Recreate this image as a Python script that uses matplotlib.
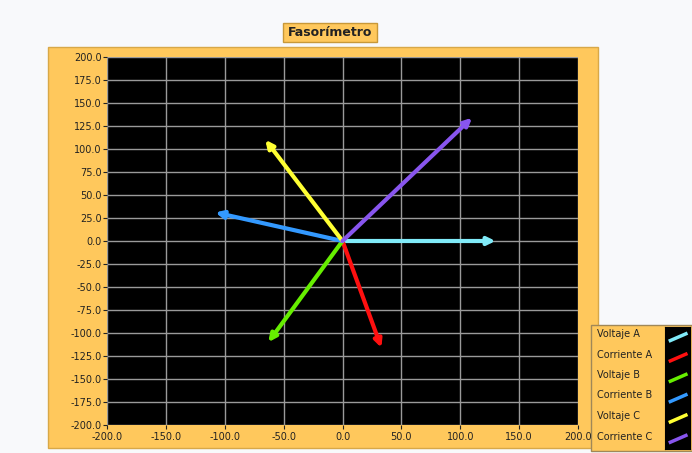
import matplotlib
matplotlib.use("Agg")
import matplotlib.pyplot as plt
from matplotlib.patches import Rectangle

labels = ['Voltaje A', 'Corriente A', 'Voltaje B', 'Corriente B', 'Voltaje C', 'Corriente C']
x_end = [130.0, 33.0, -63.0, -108.0, -65.5, 110.0]
y_end = [0.0, -116.0, -110.0, 31.0, 110.0, 134.0]
colors = ['#80eaf8', '#ff1010', '#66ee00', '#3399ff', '#ffff33', '#8855ee']
x_ticks = [-200, -150, -100, -50, 0, 50, 100, 150, 200]
y_ticks = [200, 175, 150, 125, 100, 75, 50, 25, 0, -25, -50, -75, -100, -125, -150, -175, -200]

W, H = 692, 453
fig = plt.figure(figsize=(W / 100, H / 100), dpi=100)
fig.patch.set_facecolor('#f8f9fb')

orange = '#ffc85c'

def box(x0, y0, x1, y1, **kw):
    # pixel coords (top-left origin) -> figure fraction
    r = Rectangle((x0 / W, 1 - y1 / H), (x1 - x0) / W, (y1 - y0) / H,
                  transform=fig.transFigure, zorder=-1, **kw)
    fig.patches.append(r)

# main panel and legend panel
box(48, 47, 598, 448, facecolor=orange, edgecolor='#d8a848', lw=1)
box(591, 325, 692, 451, facecolor=orange, edgecolor='#a08858', lw=1)
# title
box(283, 23, 377, 42, facecolor=orange, edgecolor='#c89838', lw=1)
fig.text(330 / W, 1 - 32.5 / H, 'Fasorímetro', ha='center', va='center',
         fontsize=9, fontweight='bold', color='#222222')

ax = fig.add_axes([107 / W, 1 - 425 / H, 471 / W, 368 / H])
ax.set_facecolor('black')
ax.set_xlim(-200, 200)
ax.set_ylim(-200, 200)
ax.set_xticks(x_ticks)
ax.set_yticks(y_ticks)
ax.set_xticklabels(['%.1f' % v for v in x_ticks])
ax.set_yticklabels(['%.1f' % v for v in y_ticks])
ax.tick_params(labelsize=7, length=3, color='#222222', labelcolor='#222222', pad=1)
ax.tick_params(axis='x', pad=2)
ax.grid(True, color='#9a9a9a', lw=1)
ax.set_axisbelow(True)
for s in ax.spines.values():
    s.set_visible(False)

for xe, ye, c in zip(x_end, y_end, colors):
    ax.annotate('', xy=(xe, ye), xytext=(0, 0),
                arrowprops=dict(arrowstyle='-|>,head_length=0.45,head_width=0.22',
                                color=c, lw=3, shrinkA=0, shrinkB=0))

# legend
lx = fig.add_axes([665 / W, 1 - 449 / H, 25 / W, 122 / H])
lx.set_facecolor('black')
lx.set_xlim(0, 1)
lx.set_ylim(len(labels), 0)
lx.set_xticks([])
lx.set_yticks([])
for i, (lab, c) in enumerate(zip(labels, colors)):
    yc = i + 0.5
    lx.plot([0.15, 0.9], [yc + 0.2, yc - 0.2], color=c, lw=2.5, solid_capstyle='butt')
    fig.text(597 / W, 1 - (334 + i * 20.5) / H, lab, ha='left', va='center',
             fontsize=7, color='#222222')

fig.savefig('out.png', dpi=100, facecolor=fig.get_facecolor())
